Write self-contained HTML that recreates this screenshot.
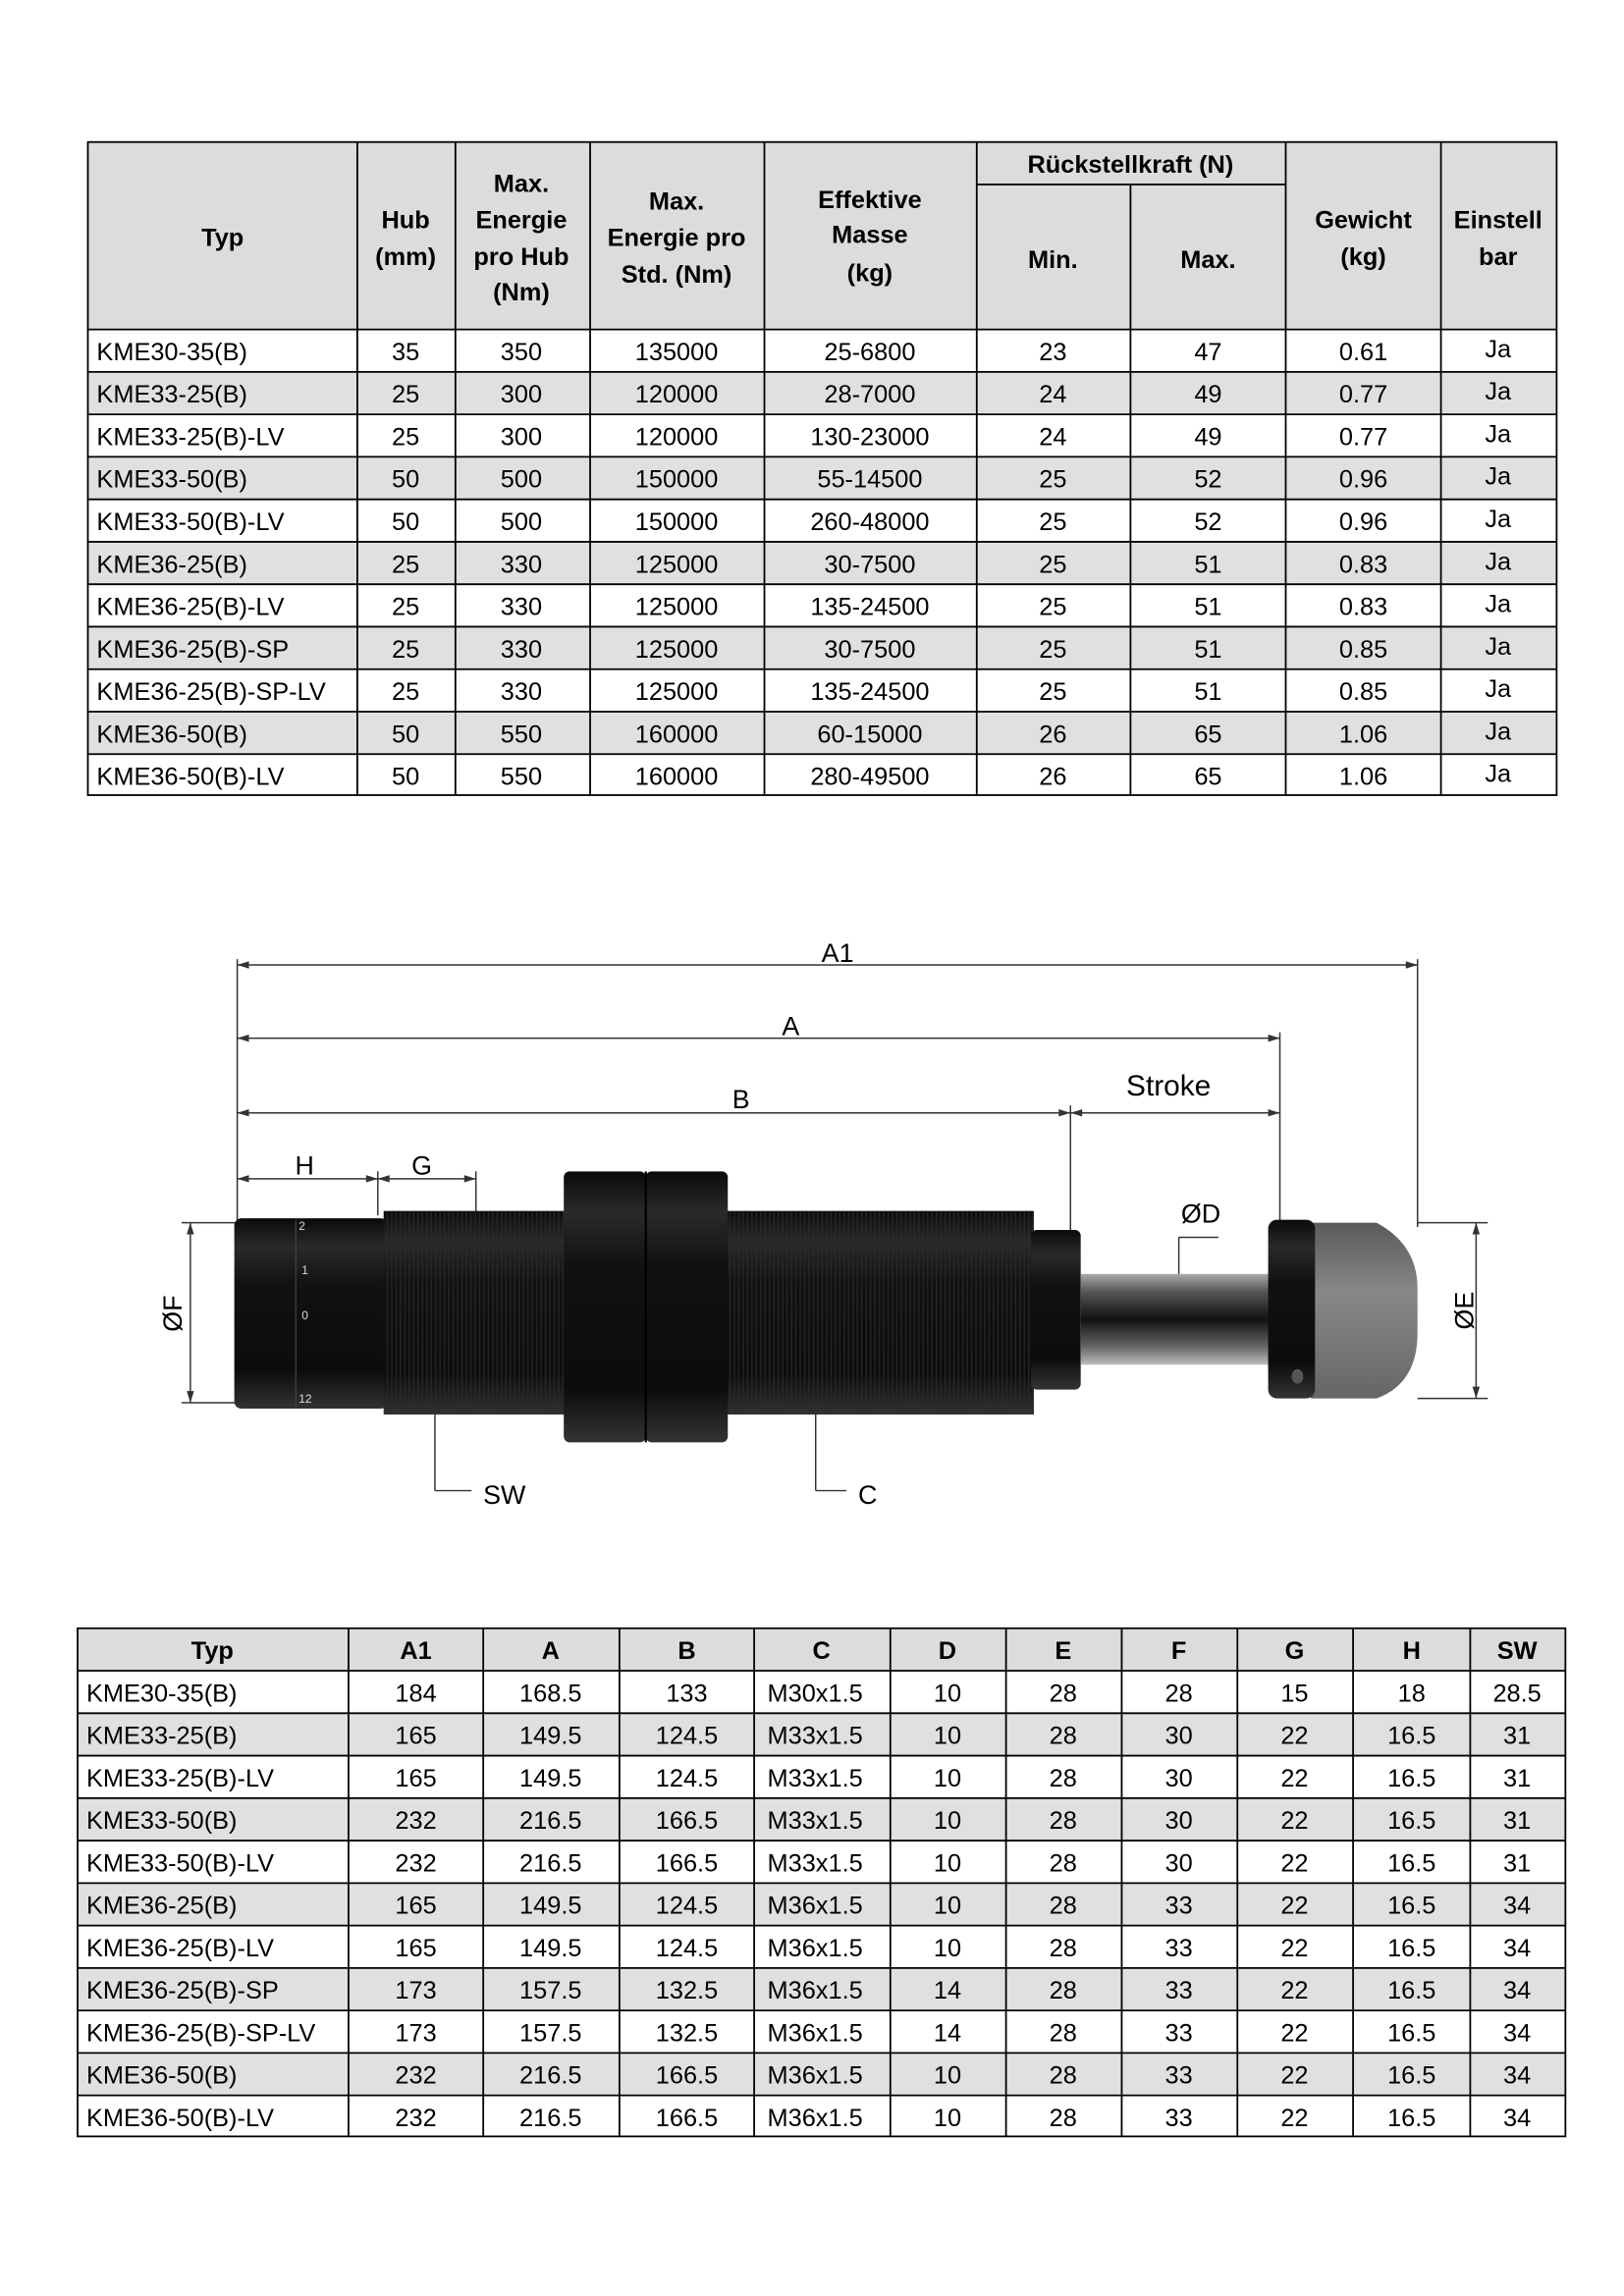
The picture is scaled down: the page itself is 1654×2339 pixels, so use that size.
<!DOCTYPE html>
<html><head><meta charset="utf-8"><style>
html,body{margin:0;padding:0;background:#fff}
svg{display:block}
text{font-family:"Liberation Sans",Arial,sans-serif;font-size:17px;fill:#000}
.b{font-weight:bold}
.c{text-anchor:middle}
</style></head><body>
<svg width="1654" height="2339" viewBox="0 0 1109 1568" preserveAspectRatio="none" xmlns="http://www.w3.org/2000/svg">
<defs>
<linearGradient id="blk" x1="0" y1="0" x2="0" y2="1">
<stop offset="0" stop-color="#0a0a0a"/><stop offset="0.15" stop-color="#2a2a2a"/><stop offset="0.35" stop-color="#111"/><stop offset="0.8" stop-color="#0c0c0c"/><stop offset="1" stop-color="#333"/></linearGradient>
<linearGradient id="rod" x1="0" y1="0" x2="0" y2="1">
<stop offset="0" stop-color="#aaa"/><stop offset="0.2" stop-color="#555"/><stop offset="0.5" stop-color="#111"/><stop offset="0.8" stop-color="#666"/><stop offset="1" stop-color="#bbb"/></linearGradient>
<linearGradient id="rub" x1="0" y1="0" x2="0" y2="1">
<stop offset="0" stop-color="#5a5a5a"/><stop offset="0.4" stop-color="#888"/><stop offset="1" stop-color="#666"/></linearGradient>
<pattern id="thr" width="3" height="10" patternUnits="userSpaceOnUse"><rect width="3" height="10" fill="none"/><rect width="1" height="10" fill="#2c2c2c"/></pattern>
</defs>

<!-- TABLE 1 -->
<g>
<rect x="60" y="97" width="1003" height="128" fill="#dcdcdc"/>
<rect x="60" y="254" width="1003" height="29" fill="#e0e0e0"/>
<rect x="60" y="312" width="1003" height="29" fill="#e0e0e0"/>
<rect x="60" y="370" width="1003" height="29" fill="#e0e0e0"/>
<rect x="60" y="428" width="1003" height="29" fill="#e0e0e0"/>
<rect x="60" y="486" width="1003" height="29" fill="#e0e0e0"/>
<g stroke="#000" stroke-width="1.2" fill="none">
<rect x="60" y="97" width="1003" height="446"/>
<line x1="667" y1="126" x2="878" y2="126"/>
<line x1="60" y1="225" x2="1063" y2="225"/>
<line x1="60" y1="254" x2="1063" y2="254"/><line x1="60" y1="283" x2="1063" y2="283"/>
<line x1="60" y1="312" x2="1063" y2="312"/><line x1="60" y1="341" x2="1063" y2="341"/>
<line x1="60" y1="370" x2="1063" y2="370"/><line x1="60" y1="399" x2="1063" y2="399"/>
<line x1="60" y1="428" x2="1063" y2="428"/><line x1="60" y1="457" x2="1063" y2="457"/>
<line x1="60" y1="486" x2="1063" y2="486"/><line x1="60" y1="515" x2="1063" y2="515"/>
<line x1="244" y1="97" x2="244" y2="543"/><line x1="311" y1="97" x2="311" y2="543"/>
<line x1="403" y1="97" x2="403" y2="543"/><line x1="522" y1="97" x2="522" y2="543"/>
<line x1="667" y1="97" x2="667" y2="543"/><line x1="772" y1="126" x2="772" y2="543"/>
<line x1="878" y1="97" x2="878" y2="543"/><line x1="984" y1="97" x2="984" y2="543"/>
</g>
<g class="b">
<text class="c b" x="152" y="168">Typ</text>
<text class="c b" x="277" y="156">Hub</text><text class="c b" x="277" y="181">(mm)</text>
<text class="c b" x="356" y="131">Max.</text><text class="c b" x="356" y="156">Energie</text><text class="c b" x="356" y="181">pro Hub</text><text class="c b" x="356" y="205">(Nm)</text>
<text class="c b" x="462" y="143">Max.</text><text class="c b" x="462" y="168">Energie pro</text><text class="c b" x="462" y="193">Std. (Nm)</text>
<text class="c b" x="594" y="142">Effektive</text><text class="c b" x="594" y="166">Masse</text><text class="c b" x="594" y="192">(kg)</text>
<text class="c b" x="772" y="118">Rückstellkraft (N)</text>
<text class="c b" x="719" y="183">Min.</text><text class="c b" x="825" y="183">Max.</text>
<text class="c b" x="931" y="156">Gewicht</text><text class="c b" x="931" y="181">(kg)</text>
<text class="c b" x="1023" y="156">Einstell</text><text class="c b" x="1023" y="181">bar</text>
</g>
<g>
<text x="66" y="246">KME30-35(B)</text><text x="66" y="275">KME33-25(B)</text><text x="66" y="304">KME33-25(B)-LV</text><text x="66" y="333">KME33-50(B)</text><text x="66" y="362">KME33-50(B)-LV</text><text x="66" y="391">KME36-25(B)</text><text x="66" y="420">KME36-25(B)-LV</text><text x="66" y="449">KME36-25(B)-SP</text><text x="66" y="478">KME36-25(B)-SP-LV</text><text x="66" y="507">KME36-50(B)</text><text x="66" y="536">KME36-50(B)-LV</text>
</g>
<g>
<text class="c" x="277" y="246">35</text><text class="c" x="356" y="246">350</text><text class="c" x="462" y="246">135000</text><text class="c" x="594" y="246">25-6800</text><text class="c" x="719" y="246">23</text><text class="c" x="825" y="246">47</text><text class="c" x="931" y="246">0.61</text><text class="c" x="1023" y="244">Ja</text>
<text class="c" x="277" y="275">25</text><text class="c" x="356" y="275">300</text><text class="c" x="462" y="275">120000</text><text class="c" x="594" y="275">28-7000</text><text class="c" x="719" y="275">24</text><text class="c" x="825" y="275">49</text><text class="c" x="931" y="275">0.77</text><text class="c" x="1023" y="273">Ja</text>
<text class="c" x="277" y="304">25</text><text class="c" x="356" y="304">300</text><text class="c" x="462" y="304">120000</text><text class="c" x="594" y="304">130-23000</text><text class="c" x="719" y="304">24</text><text class="c" x="825" y="304">49</text><text class="c" x="931" y="304">0.77</text><text class="c" x="1023" y="302">Ja</text>
<text class="c" x="277" y="333">50</text><text class="c" x="356" y="333">500</text><text class="c" x="462" y="333">150000</text><text class="c" x="594" y="333">55-14500</text><text class="c" x="719" y="333">25</text><text class="c" x="825" y="333">52</text><text class="c" x="931" y="333">0.96</text><text class="c" x="1023" y="331">Ja</text>
<text class="c" x="277" y="362">50</text><text class="c" x="356" y="362">500</text><text class="c" x="462" y="362">150000</text><text class="c" x="594" y="362">260-48000</text><text class="c" x="719" y="362">25</text><text class="c" x="825" y="362">52</text><text class="c" x="931" y="362">0.96</text><text class="c" x="1023" y="360">Ja</text>
<text class="c" x="277" y="391">25</text><text class="c" x="356" y="391">330</text><text class="c" x="462" y="391">125000</text><text class="c" x="594" y="391">30-7500</text><text class="c" x="719" y="391">25</text><text class="c" x="825" y="391">51</text><text class="c" x="931" y="391">0.83</text><text class="c" x="1023" y="389">Ja</text>
<text class="c" x="277" y="420">25</text><text class="c" x="356" y="420">330</text><text class="c" x="462" y="420">125000</text><text class="c" x="594" y="420">135-24500</text><text class="c" x="719" y="420">25</text><text class="c" x="825" y="420">51</text><text class="c" x="931" y="420">0.83</text><text class="c" x="1023" y="418">Ja</text>
<text class="c" x="277" y="449">25</text><text class="c" x="356" y="449">330</text><text class="c" x="462" y="449">125000</text><text class="c" x="594" y="449">30-7500</text><text class="c" x="719" y="449">25</text><text class="c" x="825" y="449">51</text><text class="c" x="931" y="449">0.85</text><text class="c" x="1023" y="447">Ja</text>
<text class="c" x="277" y="478">25</text><text class="c" x="356" y="478">330</text><text class="c" x="462" y="478">125000</text><text class="c" x="594" y="478">135-24500</text><text class="c" x="719" y="478">25</text><text class="c" x="825" y="478">51</text><text class="c" x="931" y="478">0.85</text><text class="c" x="1023" y="476">Ja</text>
<text class="c" x="277" y="507">50</text><text class="c" x="356" y="507">550</text><text class="c" x="462" y="507">160000</text><text class="c" x="594" y="507">60-15000</text><text class="c" x="719" y="507">26</text><text class="c" x="825" y="507">65</text><text class="c" x="931" y="507">1.06</text><text class="c" x="1023" y="505">Ja</text>
<text class="c" x="277" y="536">50</text><text class="c" x="356" y="536">550</text><text class="c" x="462" y="536">160000</text><text class="c" x="594" y="536">280-49500</text><text class="c" x="719" y="536">26</text><text class="c" x="825" y="536">65</text><text class="c" x="931" y="536">1.06</text><text class="c" x="1023" y="534">Ja</text>
</g>
</g>

<!-- DRAWING -->
<g stroke="#333" stroke-width="1" fill="none">
<line x1="162" y1="659" x2="968" y2="659"/>
<line x1="162" y1="709" x2="874" y2="709"/>
<line x1="162" y1="760" x2="874" y2="760"/>
<line x1="162" y1="805" x2="325" y2="805"/>
<line x1="162" y1="655" x2="162" y2="835"/>
<line x1="968" y1="655" x2="968" y2="838"/>
<line x1="874" y1="705" x2="874" y2="836"/>
<line x1="731" y1="755" x2="731" y2="842"/>
<line x1="258" y1="800" x2="258" y2="830"/>
<line x1="325" y1="800" x2="325" y2="828"/>
<line x1="130" y1="835" x2="130" y2="958"/>
<line x1="124" y1="835" x2="162" y2="835"/><line x1="124" y1="958" x2="162" y2="958"/>
<line x1="1008" y1="835" x2="1008" y2="955"/>
<line x1="968" y1="835" x2="1016" y2="835"/><line x1="968" y1="955" x2="1016" y2="955"/>
<line x1="805" y1="845" x2="805" y2="915"/><line x1="805" y1="845" x2="832" y2="845"/>
<line x1="297" y1="965" x2="297" y2="1018"/><line x1="297" y1="1018" x2="322" y2="1018"/>
<line x1="557" y1="965" x2="557" y2="1018"/><line x1="557" y1="1018" x2="578" y2="1018"/>
</g>
<g fill="#333">
<path d="M162 659 l8 -2.5 v5z"/><path d="M968 659 l-8 -2.5 v5z"/>
<path d="M162 709 l8 -2.5 v5z"/><path d="M874 709 l-8 -2.5 v5z"/>
<path d="M162 760 l8 -2.5 v5z"/><path d="M731 760 l-8 -2.5 v5z"/><path d="M731 760 l8 -2.5 v5z"/><path d="M874 760 l-8 -2.5 v5z"/>
<path d="M162 805 l8 -2.5 v5z"/><path d="M258 805 l-8 -2.5 v5z"/><path d="M258 805 l8 -2.5 v5z"/><path d="M325 805 l-8 -2.5 v5z"/>
<path d="M130 835 l-2.5 8 h5z"/><path d="M130 958 l-2.5 -8 h5z"/>
<path d="M1008 835 l-2.5 8 h5z"/><path d="M1008 955 l-2.5 -8 h5z"/>
</g>
<rect x="160" y="832" width="105" height="130" rx="5" fill="url(#blk)"/>
<line x1="202" y1="833" x2="202" y2="961" stroke="#444" stroke-width="0.8"/>
<rect x="262" y="827" width="124" height="139" fill="url(#blk)"/>
<rect x="262" y="827" width="124" height="139" fill="url(#thr)" opacity="0.7"/>
<rect x="496" y="827" width="210" height="139" fill="url(#blk)"/>
<rect x="496" y="827" width="210" height="139" fill="url(#thr)" opacity="0.7"/>
<rect x="385" y="800" width="56" height="185" rx="4" fill="url(#blk)"/>
<rect x="441" y="800" width="56" height="185" rx="4" fill="url(#blk)"/>
<line x1="441" y1="800" x2="441" y2="985" stroke="#000" stroke-width="1.5"/>
<rect x="704" y="840" width="34" height="109" rx="4" fill="url(#blk)"/>
<rect x="738" y="870" width="132" height="62" fill="url(#rod)"/>
<path d="M895 835 H940 Q968 850 968 880 V910 Q968 945 940 955 H895z" fill="url(#rub)"/>
<rect x="866" y="833" width="32" height="122" rx="6" fill="url(#blk)"/>
<ellipse cx="886" cy="940" rx="4" ry="5" fill="#555"/>
<text x="204" y="840" style="font-size:8px;fill:#ddd">2</text>
<text x="206" y="870" style="font-size:8px;fill:#ddd">1</text>
<text x="206" y="901" style="font-size:8px;fill:#ddd">0</text>
<text x="204" y="958" style="font-size:8px;fill:#ddd">12</text>
<text class="c" x="572" y="657" style="font-size:18px">A1</text>
<text class="c" x="540" y="707" style="font-size:18px">A</text>
<text class="c" x="506" y="757" style="font-size:18px">B</text>
<text class="c" x="798" y="748" style="font-size:20px">Stroke</text>
<text class="c" x="208" y="802" style="font-size:18px">H</text>
<text class="c" x="288" y="802" style="font-size:18px">G</text>
<text class="c" x="820" y="835" style="font-size:18px">ØD</text>
<text class="c" transform="translate(124,897) rotate(-90)" style="font-size:18px">ØF</text>
<text class="c" transform="translate(1006,895) rotate(-90)" style="font-size:18px">ØE</text>
<text x="330" y="1027" style="font-size:18px">SW</text>
<text x="586" y="1027" style="font-size:18px">C</text>

<!-- TABLE 2 -->
<g>
<rect x="53" y="1112" width="1016" height="29" fill="#dcdcdc"/>
<rect x="53" y="1170" width="1016" height="29" fill="#e0e0e0"/>
<rect x="53" y="1228" width="1016" height="29" fill="#e0e0e0"/>
<rect x="53" y="1286" width="1016" height="29" fill="#e0e0e0"/>
<rect x="53" y="1344" width="1016" height="29" fill="#e0e0e0"/>
<rect x="53" y="1402" width="1016" height="29" fill="#e0e0e0"/>
<g stroke="#000" stroke-width="1.2" fill="none">
<rect x="53" y="1112" width="1016" height="347"/>
<line x1="53" y1="1141" x2="1069" y2="1141"/><line x1="53" y1="1170" x2="1069" y2="1170"/>
<line x1="53" y1="1199" x2="1069" y2="1199"/><line x1="53" y1="1228" x2="1069" y2="1228"/>
<line x1="53" y1="1257" x2="1069" y2="1257"/><line x1="53" y1="1286" x2="1069" y2="1286"/>
<line x1="53" y1="1315" x2="1069" y2="1315"/><line x1="53" y1="1344" x2="1069" y2="1344"/>
<line x1="53" y1="1373" x2="1069" y2="1373"/><line x1="53" y1="1402" x2="1069" y2="1402"/>
<line x1="53" y1="1431" x2="1069" y2="1431"/>
<line x1="238" y1="1112" x2="238" y2="1459"/><line x1="330" y1="1112" x2="330" y2="1459"/>
<line x1="423" y1="1112" x2="423" y2="1459"/><line x1="515" y1="1112" x2="515" y2="1459"/>
<line x1="608" y1="1112" x2="608" y2="1459"/><line x1="687" y1="1112" x2="687" y2="1459"/>
<line x1="766" y1="1112" x2="766" y2="1459"/><line x1="845" y1="1112" x2="845" y2="1459"/>
<line x1="924" y1="1112" x2="924" y2="1459"/><line x1="1004" y1="1112" x2="1004" y2="1459"/>
</g>
<text class="c b" x="145" y="1133">Typ</text><text class="c b" x="284" y="1133">A1</text><text class="c b" x="376" y="1133">A</text><text class="c b" x="469" y="1133">B</text><text class="c b" x="561" y="1133">C</text><text class="c b" x="647" y="1133">D</text><text class="c b" x="726" y="1133">E</text><text class="c b" x="805" y="1133">F</text><text class="c b" x="884" y="1133">G</text><text class="c b" x="964" y="1133">H</text><text class="c b" x="1036" y="1133">SW</text>
<text x="59" y="1162">KME30-35(B)</text><text x="59" y="1191">KME33-25(B)</text><text x="59" y="1220">KME33-25(B)-LV</text><text x="59" y="1249">KME33-50(B)</text><text x="59" y="1278">KME33-50(B)-LV</text><text x="59" y="1307">KME36-25(B)</text><text x="59" y="1336">KME36-25(B)-LV</text><text x="59" y="1365">KME36-25(B)-SP</text><text x="59" y="1394">KME36-25(B)-SP-LV</text><text x="59" y="1423">KME36-50(B)</text><text x="59" y="1452">KME36-50(B)-LV</text>
<text class="c" x="284" y="1162">184</text><text class="c" x="376" y="1162">168.5</text><text class="c" x="469" y="1162">133</text><text x="524" y="1162">M30x1.5</text><text class="c" x="647" y="1162">10</text><text class="c" x="726" y="1162">28</text><text class="c" x="805" y="1162">28</text><text class="c" x="884" y="1162">15</text><text class="c" x="964" y="1162">18</text><text class="c" x="1036" y="1162">28.5</text>
<text class="c" x="284" y="1191">165</text><text class="c" x="376" y="1191">149.5</text><text class="c" x="469" y="1191">124.5</text><text x="524" y="1191">M33x1.5</text><text class="c" x="647" y="1191">10</text><text class="c" x="726" y="1191">28</text><text class="c" x="805" y="1191">30</text><text class="c" x="884" y="1191">22</text><text class="c" x="964" y="1191">16.5</text><text class="c" x="1036" y="1191">31</text>
<text class="c" x="284" y="1220">165</text><text class="c" x="376" y="1220">149.5</text><text class="c" x="469" y="1220">124.5</text><text x="524" y="1220">M33x1.5</text><text class="c" x="647" y="1220">10</text><text class="c" x="726" y="1220">28</text><text class="c" x="805" y="1220">30</text><text class="c" x="884" y="1220">22</text><text class="c" x="964" y="1220">16.5</text><text class="c" x="1036" y="1220">31</text>
<text class="c" x="284" y="1249">232</text><text class="c" x="376" y="1249">216.5</text><text class="c" x="469" y="1249">166.5</text><text x="524" y="1249">M33x1.5</text><text class="c" x="647" y="1249">10</text><text class="c" x="726" y="1249">28</text><text class="c" x="805" y="1249">30</text><text class="c" x="884" y="1249">22</text><text class="c" x="964" y="1249">16.5</text><text class="c" x="1036" y="1249">31</text>
<text class="c" x="284" y="1278">232</text><text class="c" x="376" y="1278">216.5</text><text class="c" x="469" y="1278">166.5</text><text x="524" y="1278">M33x1.5</text><text class="c" x="647" y="1278">10</text><text class="c" x="726" y="1278">28</text><text class="c" x="805" y="1278">30</text><text class="c" x="884" y="1278">22</text><text class="c" x="964" y="1278">16.5</text><text class="c" x="1036" y="1278">31</text>
<text class="c" x="284" y="1307">165</text><text class="c" x="376" y="1307">149.5</text><text class="c" x="469" y="1307">124.5</text><text x="524" y="1307">M36x1.5</text><text class="c" x="647" y="1307">10</text><text class="c" x="726" y="1307">28</text><text class="c" x="805" y="1307">33</text><text class="c" x="884" y="1307">22</text><text class="c" x="964" y="1307">16.5</text><text class="c" x="1036" y="1307">34</text>
<text class="c" x="284" y="1336">165</text><text class="c" x="376" y="1336">149.5</text><text class="c" x="469" y="1336">124.5</text><text x="524" y="1336">M36x1.5</text><text class="c" x="647" y="1336">10</text><text class="c" x="726" y="1336">28</text><text class="c" x="805" y="1336">33</text><text class="c" x="884" y="1336">22</text><text class="c" x="964" y="1336">16.5</text><text class="c" x="1036" y="1336">34</text>
<text class="c" x="284" y="1365">173</text><text class="c" x="376" y="1365">157.5</text><text class="c" x="469" y="1365">132.5</text><text x="524" y="1365">M36x1.5</text><text class="c" x="647" y="1365">14</text><text class="c" x="726" y="1365">28</text><text class="c" x="805" y="1365">33</text><text class="c" x="884" y="1365">22</text><text class="c" x="964" y="1365">16.5</text><text class="c" x="1036" y="1365">34</text>
<text class="c" x="284" y="1394">173</text><text class="c" x="376" y="1394">157.5</text><text class="c" x="469" y="1394">132.5</text><text x="524" y="1394">M36x1.5</text><text class="c" x="647" y="1394">14</text><text class="c" x="726" y="1394">28</text><text class="c" x="805" y="1394">33</text><text class="c" x="884" y="1394">22</text><text class="c" x="964" y="1394">16.5</text><text class="c" x="1036" y="1394">34</text>
<text class="c" x="284" y="1423">232</text><text class="c" x="376" y="1423">216.5</text><text class="c" x="469" y="1423">166.5</text><text x="524" y="1423">M36x1.5</text><text class="c" x="647" y="1423">10</text><text class="c" x="726" y="1423">28</text><text class="c" x="805" y="1423">33</text><text class="c" x="884" y="1423">22</text><text class="c" x="964" y="1423">16.5</text><text class="c" x="1036" y="1423">34</text>
<text class="c" x="284" y="1452">232</text><text class="c" x="376" y="1452">216.5</text><text class="c" x="469" y="1452">166.5</text><text x="524" y="1452">M36x1.5</text><text class="c" x="647" y="1452">10</text><text class="c" x="726" y="1452">28</text><text class="c" x="805" y="1452">33</text><text class="c" x="884" y="1452">22</text><text class="c" x="964" y="1452">16.5</text><text class="c" x="1036" y="1452">34</text>
</g>
</svg>
</body></html>
